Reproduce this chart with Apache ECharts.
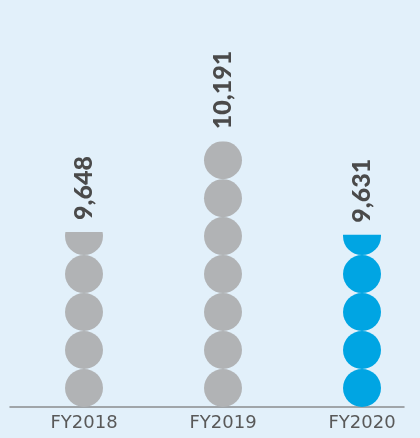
<!DOCTYPE html>
<html>
<head>
<meta charset="utf-8">
<script src="https://cdn.jsdelivr.net/npm/echarts@6/dist/echarts.min.js"></script>
<style>
html,body{margin:0;padding:0;background:#e2f0fa;}
#c{width:420px;height:438px;}
</style>
</head>
<body>
<div id="c"></div>
<script>
const categories = ['FY2018', 'FY2019', 'FY2020'];
const values = [9648, 10191, 9631];
const barColors = ['#b1b3b5', '#b1b3b5', '#00a5e3'];
// value at which the (hidden) value axis starts
const AXIS_BASE = 8600;
const AXIS_TOP = 11000;

const plotted = values.map(v => v - AXIS_BASE);

const chart = echarts.init(document.getElementById('c'));
chart.setOption({
  backgroundColor: '#e2f0fa',
  animation: false,
  grid: [
    { left: 84, right: 58, top: 6, bottom: 31 },
    { left: 10, right: 16, top: 6, bottom: 31 }
  ],
  xAxis: [
    {
      type: 'category', gridIndex: 0, data: categories, boundaryGap: false,
      axisLine: { show: false }, axisTick: { show: false },
      axisLabel: { color: '#595959', fontSize: 18, fontFamily: 'DejaVu Sans', margin: 7 }
    },
    {
      type: 'category', gridIndex: 1, data: [''],
      axisLine: { show: true, lineStyle: { color: '#8a8c8e', width: 1.5 } },
      axisTick: { show: false }, axisLabel: { show: false }
    }
  ],
  yAxis: [
    { type: 'value', gridIndex: 0, min: 0, max: AXIS_TOP - AXIS_BASE, show: false },
    { type: 'value', gridIndex: 1, show: false }
  ],
  series: [{
    type: 'pictorialBar',
    xAxisIndex: 0, yAxisIndex: 0,
    symbol: 'circle',
    symbolSize: [38, 38],
    symbolRepeat: 'fixed',
    symbolMargin: 0,
    symbolClip: true,
    symbolBoundingData: Math.max.apply(null, plotted),
    z: 3,
    data: plotted.map((v, i) => ({ value: v, itemStyle: { color: barColors[i] } }))
  }, {
    type: 'bar',
    xAxisIndex: 0, yAxisIndex: 0,
    barWidth: 38,
    itemStyle: { color: 'rgba(0,0,0,0)' },
    silent: true,
    z: 2,
    data: plotted,
    label: {
      show: true,
      position: 'top',
      distance: 13,
      rotate: 90,
      align: 'left',
      verticalAlign: 'middle',
      color: '#4a4a4a',
      fontFamily: 'Lato',
      fontWeight: 900,
      fontSize: 25,
      offset: [-1, 0],
      formatter: p => values[p.dataIndex].toLocaleString('en-US')
    }
  }]
});
</script>
</body>
</html>
